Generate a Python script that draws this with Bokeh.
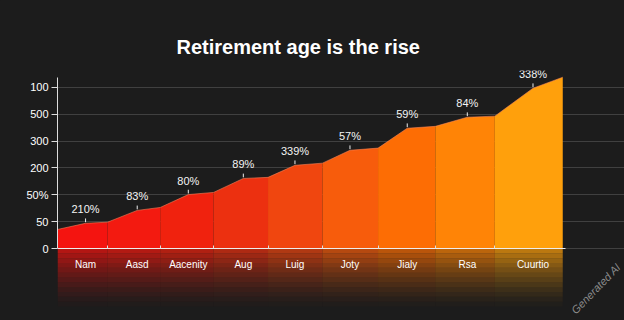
from bokeh.plotting import figure
from bokeh.models import FixedTicker, Range1d
from bokeh.core.properties import value
from bokeh.embed import file_html
from bokeh.resources import INLINE

# ---- data ----
title_text = "Retirement age is the rise"
categories = ["Nam", "Aasd", "Aacenity", "Aug", "Luig", "Joty", "Jialy", "Rsa", "Cuurtio"]
peak_x = [0.50, 1.42, 2.33, 3.31, 4.23, 5.21, 6.23, 7.30, 8.47]
peak_y = [0.94, 1.42, 2.01, 2.61, 3.10, 3.66, 4.48, 4.89, 5.97]
shoulder_x = [0.89, 1.83, 2.78, 3.75, 4.72, 5.71, 6.73, 7.79, 9.00]
shoulder_y = [0.98, 1.53, 2.09, 2.65, 3.18, 3.74, 4.55, 4.93, 6.38]
start_x = 0.0
start_y = 0.71
pct_labels = ["210%", "83%", "80%", "89%", "339%", "57%", "59%", "84%", "338%"]
y_ticks = [0, 1, 2, 3, 4, 5, 6]
y_tick_labels = ["0", "50", "50%", "200", "300", "500", "100"]
band_colors = ["#f41410", "#f31a10", "#f0220e", "#ec3010", "#f0460f",
               "#f75c0c", "#fd6d04", "#ff8406", "#ffa00c"]
watermark = "Generated AI"

BG = "#1c1c1c"
FONT = "Liberation Sans"

p = figure(width=624, height=320, output_backend="svg", toolbar_location=None,
           x_range=Range1d(0, 10.1), y_range=Range1d(-2.68, 6.63),
           min_border_left=57, min_border_right=0, min_border_top=70,
           min_border_bottom=0)
p.background_fill_color = BG
p.border_fill_color = BG
p.outline_line_color = None
p.styles = {"background-color": BG}

# title
p.title.text = title_text
p.title.text_color = "#ffffff"
p.title.text_font = FONT
p.title.text_font_size = "20px"
p.title.text_font_style = "bold"
p.title.align = "left"
p.title.offset = 119
p.title.standoff = 26

# reflection under the axis
n_strips = 12
for i, c in enumerate(band_colors):
    left = start_x if i == 0 else shoulder_x[i - 1]
    right = shoulder_x[i]
    for k in range(n_strips):
        top = -k * 0.18
        p.quad(left=left, right=right, top=top, bottom=top - 0.18,
               fill_color=c, fill_alpha=0.7 * (1 - k / n_strips) ** 1.4,
               line_color=None)

# area bands
for i, c in enumerate(band_colors):
    left = start_x if i == 0 else shoulder_x[i - 1]
    left_y = start_y if i == 0 else shoulder_y[i - 1]
    p.varea(x=[left, peak_x[i], shoulder_x[i]], y1=[0, 0, 0],
            y2=[left_y, peak_y[i], shoulder_y[i]], fill_color=c)

# top edge highlight
xs = [start_x]
ys = [start_y]
for i in range(len(categories)):
    xs += [peak_x[i], shoulder_x[i]]
    ys += [peak_y[i], shoulder_y[i]]
p.line(xs, ys, line_color="#ff8a60", line_alpha=0.55, line_width=1)

# value labels with small stems
p.segment(x0=peak_x, x1=peak_x, y0=[v + 0.04 for v in peak_y],
          y1=[v + 0.18 for v in peak_y], line_color="#eeeeee", line_width=1)
p.text(x=peak_x, y=peak_y, text=pct_labels, text_align="center",
       text_baseline="middle", y_offset=-14, text_color="#f4f4f4",
       text_font=value(FONT), text_font_size="11px")

# axes
p.ygrid.ticker = FixedTicker(ticks=y_ticks)
p.ygrid.grid_line_color = "#4a4a4a"
p.ygrid.grid_line_alpha = 0.8
p.ygrid.bounds = (0, 9.05)
p.xgrid.grid_line_color = None

ya = p.yaxis[0]
ya.ticker = FixedTicker(ticks=y_ticks)
ya.major_label_overrides = {t: l for t, l in zip(y_ticks, y_tick_labels)}
ya.bounds = (0, 6.37)
ya.axis_line_color = "#dddddd"
ya.major_tick_line_color = "#dddddd"
ya.major_tick_out = 6
ya.major_tick_in = 0
ya.minor_tick_line_color = None
ya.major_label_text_color = "#ffffff"
ya.major_label_text_font = FONT
ya.major_label_text_font_size = "11px"
ya.major_label_standoff = 3

xa = p.xaxis[0]
xa.fixed_location = 0
xa.bounds = (0, 9.05)
xa.ticker = FixedTicker(ticks=peak_x, minor_ticks=shoulder_x[:-1])
xa.major_label_overrides = {t: l for t, l in zip(peak_x, categories)}
xa.axis_line_color = "#eeeeee"
xa.major_tick_line_color = None
xa.minor_tick_line_color = "#dddddd"
xa.minor_tick_in = 3
xa.minor_tick_out = 0
xa.major_label_text_color = "#ffffff"
xa.major_label_text_font = FONT
xa.major_label_text_font_size = "10px"
xa.major_label_standoff = 4

# watermark (bottom right)
p.text(x=[9.59], y=[-1.49], text=[watermark], text_align="center",
       text_baseline="middle", angle=0.8, text_color="#a0a0a0",
       text_alpha=0.85, text_font=value(FONT), text_font_size="11px",
       text_font_style="italic")

open("out.html", "w").write(file_html(p, INLINE))
